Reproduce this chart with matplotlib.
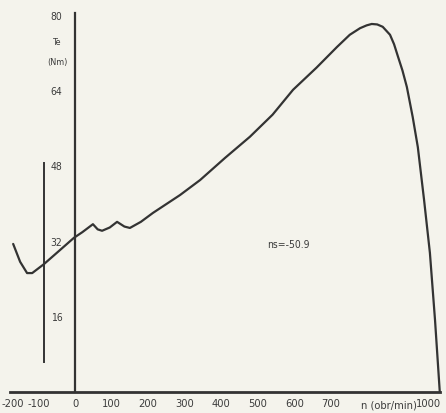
import matplotlib
matplotlib.use("Agg")
import matplotlib.pyplot as plt

# torque-speed curve (n in obr/min, Te in Nm)
speed = [-169, -150, -131, -117, -85, -41, -3, 20, 49, 62, 74, 95, 115, 135, 150,
         180, 213, 250, 287, 342, 410, 478, 540, 596, 660, 716, 751, 779,
         797, 811, 826, 841, 861, 872, 883, 895, 907, 923, 937, 954, 970, 984, 997]
torque = [31.5, 27.7, 25.3, 25.3, 27.2, 30.2, 32.8, 34.0, 35.7, 34.6, 34.3, 35.0,
          36.2, 35.2, 34.9, 36.2, 38.1, 40.0, 41.9, 45.1, 49.8, 54.3, 59.0,
          64.3, 69.0, 73.4, 76.0, 77.4, 78.0, 78.3, 78.2, 77.7, 76.0, 74.0,
          71.3, 68.4, 64.9, 58.5, 52.1, 40.9, 29.6, 15.3, 0.0]

# extra vertical marker line left of the torque axis
marker_n = [-85, -85]
marker_t = [48.7, 6.4]

x_ticks = [-200, -100, 0, 100, 200, 300, 400, 500, 600, 700, 1000]
y_ticks = [16, 32, 48, 64, 80]
slip_note = "ns=-50.9"

paper = "#f4f3ec"
ink = "#333333"
txt = "#3c3c3c"
font = ["DejaVu Sans"]
narrow = dict(family=font, fontstretch="condensed", color=txt)

fig = plt.figure(figsize=(4.46, 4.13), dpi=100, facecolor=paper)
ax = fig.add_axes([0, 0, 1, 1], facecolor=paper)
ax.set_xlim(-205, 1014)
ax.set_ylim(-4.47, 83.4)

ax.plot(speed, torque, color=ink, lw=1.6, solid_capstyle="round",
        solid_joinstyle="round")
ax.plot(marker_n, marker_t, color=ink, lw=1.4)

for s in ("top", "right"):
    ax.spines[s].set_visible(False)
ax.spines["bottom"].set_position(("data", 0))
ax.spines["left"].set_position(("data", 0))
ax.spines["bottom"].set_bounds(-178, 998)
ax.spines["left"].set_bounds(0, 80.6)
ax.spines["bottom"].set_linewidth(2.0)
ax.spines["left"].set_linewidth(1.6)
ax.spines["bottom"].set_color(ink)
ax.spines["left"].set_color(ink)

ax.set_xticks(x_ticks)
ax.set_xticklabels([str(v) for v in x_ticks], fontsize=8, **narrow)
ax.set_yticks(y_ticks)
ax.set_yticklabels([str(v) for v in y_ticks], fontsize=7.5, **narrow)
ax.tick_params(axis="x", length=0, pad=5)
ax.tick_params(axis="y", length=0, pad=9)
labels = ax.get_xticklabels()
labels[0].set_ha("left")
labels[-1].set_ha("right")

ax.text(858, -2.85, "n (obr/min)", fontsize=8, ha="center", va="center", **narrow)
ax.text(-49, 74.3, "Te", fontsize=6.5, ha="center", va="center", **narrow)
ax.text(-49, 70.2, "(Nm)", fontsize=6.5, ha="center", va="center", **narrow)
ax.text(525, 31.3, slip_note, fontsize=7.5, ha="left", va="center", **narrow)

fig.savefig("out.png", dpi=100, facecolor=paper)
